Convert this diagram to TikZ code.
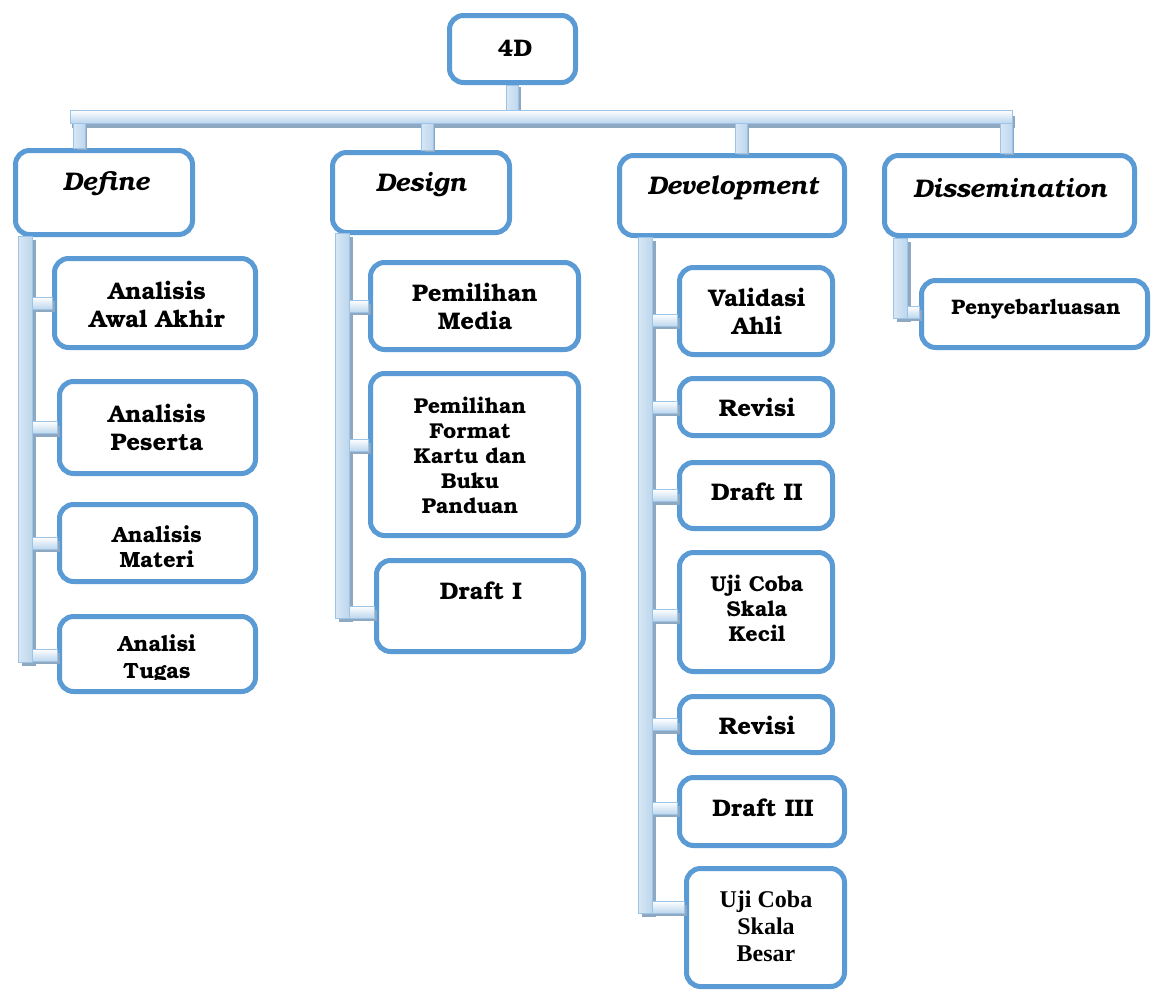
\documentclass[tikz,border=0pt]{standalone}
\usepackage{fontspec}
\setmainfont{texgyrebonum}[Extension=.otf,UprightFont=*-regular,BoldFont=*-bold,ItalicFont=*-italic,BoldItalicFont=*-bolditalic]
\newfontfamily\timesf{Liberation Serif}
\usetikzlibrary{calc}
\definecolor{boxblue}{HTML}{5B9BD5}
\definecolor{barblue}{HTML}{BDD7EE}
\definecolor{barline}{HTML}{9DC3E6}
\definecolor{shadowc}{HTML}{8FA8C2}
\tikzset{
  box/.style={draw=boxblue,line width=5pt,rounded corners=14pt,fill=white,anchor=north west,inner sep=0pt},
  lbl/.style={font=\bfseries\fontsize{24}{28}\selectfont,align=center,inner sep=0pt},
  lbls/.style={font=\bfseries\fontsize{21.5}{25}\selectfont,align=center,inner sep=0pt},
  head/.style={font=\bfseries\itshape\fontsize{25.5}{28}\selectfont,inner sep=0pt},
  barshadow/.style={fill=shadowc},
  barV/.style={left color=barblue!60,middle color=white,right color=barblue,draw=barline,line width=1pt},
  barH/.style={top color=white,bottom color=barblue,draw=barline,line width=1pt},
}
% horizontal stub from point #1 to point #2 (centre line), thickness 12
\newcommand\hstub[2]{\path #1 coordinate (p) #2 coordinate (q);
  \fill[barshadow] ($(p)+(1,-2)$) rectangle ($(q)+(3,9)$);
  \shadedraw[barH] ($(p)+(0,-6)$) rectangle ($(q)+(0,6)$);}
% vertical stub from point #1 down to point #2 (centre line), thickness 12
\newcommand\vstub[2]{\path #1 coordinate (p) #2 coordinate (q);
  \fill[barshadow] ($(p)+(-2,2)$) rectangle ($(q)+(8,2)$);
  \shadedraw[barV] ($(p)+(-6,0)$) rectangle ($(q)+(6,0)$);}
% rail: top-left #1, bottom-right #2
\newcommand\rail[2]{\path #1 coordinate (p) #2 coordinate (q);
  \fill[barshadow] ($(p)+(4,4)$) rectangle ($(q)+(4,4)$);
  \shadedraw[barV] (p) rectangle (q);}
\begin{document}
\begin{tikzpicture}[x=1pt,y=-1pt]
\useasboundingbox (0,0) rectangle (1152,989);
% ---------- boxes ----------
\node[box,minimum width=126,minimum height=67] (top) at (447,13) {};
\node[box,minimum width=177,minimum height=84] (def) at (13,148) {};
\node[box,minimum width=177,minimum height=80] (des) at (330,150) {};
\node[box,minimum width=225,minimum height=80] (dev) at (617,153) {};
\node[box,minimum width=250,minimum height=80] (dis) at (882,153) {};
\node[box,minimum width=201,minimum height=89] (a1) at (52,256) {};
\node[box,minimum width=196,minimum height=92] (a2) at (57,379) {};
\node[box,minimum width=196,minimum height=77] (a3) at (57,502) {};
\node[box,minimum width=196,minimum height=75] (a4) at (57,614) {};
\node[box,minimum width=208,minimum height=87] (b1) at (368,260) {};
\node[box,minimum width=208,minimum height=162] (b2) at (368,371) {};
\node[box,minimum width=207,minimum height=91] (b3) at (374,558) {};
\node[box,minimum width=153,minimum height=87] (c1) at (677,265) {};
\node[box,minimum width=153,minimum height=57] (c2) at (677,376) {};
\node[box,minimum width=153,minimum height=66] (c3) at (677,460) {};
\node[box,minimum width=153,minimum height=119] (c4) at (677,550) {};
\node[box,minimum width=153,minimum height=56] (c5) at (677,694) {};
\node[box,minimum width=165,minimum height=68] (c6) at (677,775) {};
\node[box,minimum width=158,minimum height=118] (c7) at (684,866) {};
\node[box,minimum width=226,minimum height=67] (e1) at (919,278) {};
% ---------- texts ----------
\node[font=\bfseries\fontsize{24}{28}\selectfont,inner sep=0pt] (ttop) at (515,48) {4D};
\node[head] (tdef) at (106,184) {Define};
\node[head] (tdes) at (421,185) {Design};
\node[head] (tdev) at (733,188) {Development};
\node[head] (tdis) at (1010,188) {Dissemination};
\node[lbl] (ta1) at (157,304) {Analisis\\Awal Akhir};
\node[lbl] (ta2) at (157,427) {Analisis\\Peserta};
\node[font=\bfseries\fontsize{22}{25}\selectfont,align=center,inner sep=0pt] (ta3) at (157,547) {Analisis\\Materi};
\begin{scope}
  \clip (0,600) rectangle (300,679);
  \node[font=\bfseries\fontsize{22}{27}\selectfont,align=center,inner sep=0pt] (ta4) at (157,659) {Analisi\\Tugas};
\end{scope}
\node[lbl] (tb1) at (475,306) {Pemilihan\\Media};
\node[lbls] (tb2) at (470,455) {Pemilihan\\Format\\Kartu dan\\Buku\\Panduan};
\node[lbl] (tb3) at (481,591) {Draft I};
\node[lbl] (tc1) at (757,311) {Validasi\\Ahli};
\node[lbl] (tc2) at (757,407) {Revisi};
\node[lbl] (tc3) at (757,492) {Draft II};
\node[lbls] (tc4) at (757,608) {Uji Coba\\Skala\\Kecil};
\node[lbl] (tc5) at (757,725) {Revisi};
\node[lbl] (tc6) at (763,808) {Draft III};
\node[font=\timesf\bfseries\fontsize{24}{27}\selectfont,align=center,inner sep=0pt] (tc7) at (766,926) {Uji Coba\\Skala\\Besar};
\node[font=\bfseries\fontsize{21}{24}\selectfont,inner sep=0pt] (te1) at (1036,309) {Penyebarluasan};
% ---------- top connectors ----------
\coordinate (hbL) at (70,110);
\coordinate (hbR) at (1012,123);
\vstub{(top.south)}{($(top.south)+(0,27)$)}
\fill[barshadow] ($(hbL)+(2,6)$) rectangle ($(hbR)+(3,5)$);
\shadedraw[barH] (hbL) rectangle (hbR);
\vstub{(79,123)}{(def.north -| 79,0)}
\vstub{(427,123)}{(des.north -| 427,0)}
\vstub{(741,123)}{(dev.north -| 741,0)}
\vstub{(1006,123)}{(dis.north -| 1006,0)}
% ---------- rails ----------
\rail{(18,236)}{(32,662)}
\hstub{(32,0 |- a1.west)}{(a1.west)}
\hstub{(32,0 |- a2.west)}{(a2.west)}
\hstub{(32,0 |- a3.west)}{(a3.west)}
\hstub{(32,655)}{(a4.west |- 0,655)}
\rail{(335,233)}{(349,618)}
\hstub{(349,0 |- b1.west)}{(b1.west)}
\hstub{(349,445)}{(b2.west |- 0,445)}
\hstub{(349,612)}{(b3.west |- 0,612)}
\rail{(638,237)}{(652,913)}
\hstub{(652,320)}{(c1.west |- 0,320)}
\hstub{(652,0 |- c2.west)}{(c2.west)}
\hstub{(652,0 |- c3.west)}{(c3.west)}
\hstub{(652,615)}{(c4.west |- 0,615)}
\hstub{(652,0 |- c5.west)}{(c5.west)}
\hstub{(652,808)}{(c6.west |- 0,808)}
\hstub{(652,907)}{(c7.west |- 0,907)}
\rail{(893,238)}{(907,318)}
\hstub{(907,312)}{(e1.west |- 0,312)}
\end{tikzpicture}
\end{document}
